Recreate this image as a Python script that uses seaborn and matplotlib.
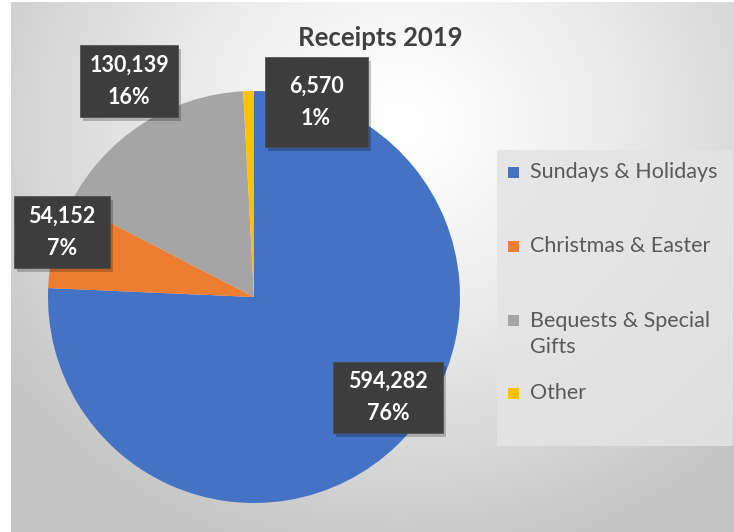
import numpy as np
import matplotlib
matplotlib.use("Agg")
import matplotlib.pyplot as plt
import seaborn as sns
from matplotlib.patches import Rectangle

categories = ["Sundays & Holidays", "Christmas & Easter", "Bequests & Special\nGifts", "Other"]
values = [594282, 54152, 130139, 6570]
pct_labels = ["76%", "7%", "16%", "1%"]
title = "Receipts 2019"
colors = ["#4472C4", "#ED7D31", "#A5A5A5", "#FFC000"]

sns.set_theme(style="white")
plt.rcParams["font.family"] = ["Lato", "DejaVu Sans"]

W, H = 734, 532
fig = plt.figure(figsize=(W / 100, H / 100), dpi=100)
fig.patch.set_facecolor("white")

# background radial gradient
bg = fig.add_axes([11 / W, 0, (W - 11) / W, (H - 2) / H])
bg.set_axis_off()
yy, xx = np.mgrid[0:530, 0:723]
cx, cy = 390, 120
d = np.sqrt(((xx - cx) / 520.0) ** 2 + ((yy - cy) / 480.0) ** 2)
g = np.clip(1.0 - 0.25 * d ** 1.3, 0.77, 1.0)
bg.imshow(np.dstack([g, g, g]), aspect="auto", interpolation="bilinear")

ax = fig.add_axes([0, 0, 1, 1])
ax.patch.set_alpha(0)
ax.pie(values, colors=colors, startangle=90, counterclock=False,
       center=(254, H - 297), radius=206, frame=True,
       wedgeprops=dict(linewidth=0))
ax.set_xlim(0, W)
ax.set_ylim(0, H)
ax.set_aspect("equal")
ax.set_axis_off()

ax.text(380, H - 38, title, ha="center", va="center", fontsize=18.5,
        fontweight="bold", color="#404040")

# data labels (box centers in pixel coords)
label_pos = [(388, 397), (62, 232), (129, 81), (316, 102)]
box_size = [(110, 71), (96, 72), (98, 72), (103, 90)]
for (x, y), (bw, bh), v, p in zip(label_pos, box_size, values, pct_labels):
    yc = H - y
    ax.add_patch(Rectangle((x - bw / 2 + 3, yc - bh / 2 - 4), bw, bh,
                           facecolor="black", alpha=0.22, linewidth=0, zorder=4))
    ax.add_patch(Rectangle((x - bw / 2, yc - bh / 2), bw, bh,
                           facecolor="#3d3d3d", edgecolor="#4a4a4a",
                           linewidth=0.5, zorder=5))
    ax.text(x, yc, f"{v:,}\n{p}", ha="center", va="center",
            fontsize=15.5, fontweight="bold", color="white",
            linespacing=1.65, zorder=6)

# legend box
ax.add_patch(Rectangle((497, H - 446), 236, 296, facecolor="#e4e4e4",
                       edgecolor="none", alpha=0.85, zorder=3))
leg_y = [172, 246, 334, 393]
for cat, col, y in zip(categories, colors, leg_y):
    my = 320 if "\n" in cat else y
    ax.add_patch(Rectangle((508, H - my - 5.5), 11, 11, facecolor=col,
                           linewidth=0, zorder=5))
    ax.text(530, H - y, cat, ha="left", va="center",
            fontsize=15.5, color="#595959", zorder=6, linespacing=1.4)

fig.savefig("out.png", dpi=100)
